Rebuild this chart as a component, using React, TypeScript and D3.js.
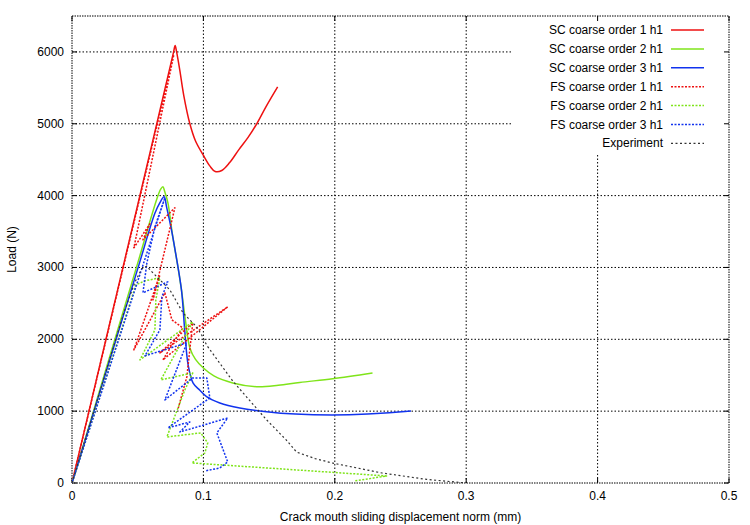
import React from "react";
import * as d3 from "d3";

const xTicks = [0, 0.1, 0.2, 0.3, 0.4, 0.5];
const yTicks = [0, 1000, 2000, 3000, 4000, 5000, 6000];
const xTickLabels = ["0", "0.1", "0.2", "0.3", "0.4", "0.5"];
const yTickLabels = ["0", "1000", "2000", "3000", "4000", "5000", "6000"];

const scOrder1: [number, number][] = [
  [0, 0], [0.025, 1935], [0.05, 3870], [0.0772, 5990], [0.0785, 6090], [0.0795, 6010],
  [0.082, 5750], [0.085, 5400], [0.0897, 5000], [0.094, 4760], [0.1, 4560], [0.105, 4410],
  [0.109, 4335], [0.114, 4350], [0.12, 4460], [0.127, 4640], [0.134, 4810], [0.1406, 5000],
  [0.148, 5250], [0.1565, 5515],
];
const scOrder2: [number, number][] = [
  [0, 0], [0.025, 1530], [0.05, 3060], [0.0645, 3950], [0.0675, 4090], [0.0692, 4123],
  [0.0705, 4060], [0.073, 3900], [0.0765, 3450], [0.0806, 3009], [0.0833, 2688],
  [0.0866, 2229], [0.0897, 1880], [0.094, 1720], [0.1, 1600], [0.108, 1490], [0.1223, 1393],
  [0.1406, 1340], [0.157, 1360], [0.1733, 1400], [0.1983, 1450], [0.2287, 1530],
];
const scOrder3: [number, number][] = [
  [0, 0], [0.025, 1490], [0.05, 2980], [0.063, 3750], [0.0668, 3900], [0.0701, 3984],
  [0.072, 3840], [0.0757, 3524], [0.0783, 3260], [0.0833, 2688], [0.0859, 2100],
  [0.0884, 1640], [0.0922, 1389], [0.0973, 1290], [0.1024, 1202], [0.1125, 1114],
  [0.1277, 1045], [0.148, 993], [0.17, 960], [0.198, 947], [0.225, 960], [0.258, 1003],
];
const fsOrder1: [number, number][] = [
  [0, 0], [0.0775, 5962], [0.0471, 3274], [0.0593, 3608], [0.054, 3385], [0.0783, 3831],
  [0.0616, 2549], [0.0669, 2897], [0.0471, 1853], [0.0707, 2647], [0.076, 2271],
  [0.0843, 2159], [0.0691, 1713], [0.1185, 2452], [0.0669, 1811], [0.0919, 2229],
  [0.0874, 1477], [0.0805, 1017],
];
const fsOrder2: [number, number][] = [
  [0, 0], [0.0486, 2758], [0.0555, 2814], [0.0669, 2856], [0.0638, 2549], [0.0631, 2131],
  [0.0517, 1713], [0.0919, 2243], [0.0676, 1435], [0.0919, 1532], [0.0859, 1295],
  [0.0722, 641], [0.098, 697], [0.1033, 557], [0.1011, 418], [0.0912, 279],
  [0.2394, 98], [0.215, 28],
];
const fsOrder3: [number, number][] = [
  [0, 0], [0.0707, 3970], [0.0631, 3566], [0.057, 3065], [0.054, 2647], [0.0729, 2800],
  [0.0684, 2591], [0.0669, 2131], [0.0555, 1769], [0.0874, 1950], [0.0707, 1156],
  [0.0919, 1463], [0.1026, 1463], [0.1049, 1184], [0.0729, 766], [0.0897, 850],
  [0.0821, 710], [0.1185, 905], [0.1102, 697], [0.1185, 293], [0.1125, 209], [0.1011, 167],
];
const experiment: [number, number][] = [
  [0, 0], [0.02, 1200], [0.04, 2400], [0.048, 2800], [0.053, 2980], [0.057, 3020],
  [0.0593, 2967], [0.0745, 2688], [0.0846, 2364], [0.0947, 2177], [0.0995, 2034],
  [0.1024, 1920], [0.1223, 1420], [0.148, 880], [0.163, 600], [0.171, 430], [0.185, 340],
  [0.198, 279], [0.236, 139], [0.27, 50], [0.3, 0],
];

const seriesNames = [
  "SC coarse order 1 h1", "SC coarse order 2 h1", "SC coarse order 3 h1",
  "FS coarse order 1 h1", "FS coarse order 2 h1", "FS coarse order 3 h1", "Experiment",
];
const seriesData = [scOrder1, scOrder2, scOrder3, fsOrder1, fsOrder2, fsOrder3, experiment];
const seriesColors = ["#ee1111", "#7fe41a", "#1133ee", "#ee1111", "#7fe41a", "#1133ee", "#333333"];
const seriesDash = [null, null, null, "2,1.5", "2,1.5", "2,1.5", "2,2.5"];
const seriesSmooth = [true, true, true, false, false, false, false];

const W = 750, H = 525;
const L = 72, R = 729, T = 16, B = 483;
const FONT = "'Liberation Sans', Arial, Helvetica, sans-serif";

export default function App() {
  const x = d3.scaleLinear().domain([0, 0.5]).range([L, R]);
  const y = d3.scaleLinear().domain([0, 6500]).range([B, T]);
  const lineStraight = d3.line<[number, number]>().x((d) => x(d[0])).y((d) => y(d[1]));
  const lineSmooth = d3.line<[number, number]>().x((d) => x(d[0])).y((d) => y(d[1]))
    .curve(d3.curveCatmullRom.alpha(0.5));
  const legX = 512, legY = 155;
  const gridDash = "1.5,2";

  return (
    <svg width={W} height={H} style={{ position: "absolute", left: 0, top: 0, background: "#fff" }}
      fontFamily={FONT}>
      <rect x={0} y={0} width={W} height={H} fill="#fff" />
      {xTicks.slice(1, -1).map((t) => {
        const px = x(t);
        const y1 = px > legX ? legY : T;
        return <line key={"gx" + t} x1={px} x2={px} y1={y1} y2={B} stroke="#000" strokeWidth={1} strokeDasharray={gridDash} />;
      })}
      {yTicks.slice(1).map((t) => {
        const py = y(t);
        const x2 = py < legY ? legX : R;
        return <line key={"gy" + t} x1={L} x2={x2} y1={py} y2={py} stroke="#000" strokeWidth={1} strokeDasharray={gridDash} />;
      })}
      <rect x={L} y={T} width={R - L} height={B - T} fill="none" stroke="#000" strokeWidth={1} strokeDasharray="1.5,1" />
      {xTicks.map((t) => (
        <g key={"tx" + t}>
          <line x1={x(t)} x2={x(t)} y1={B} y2={B - 5} stroke="#000" />
          <line x1={x(t)} x2={x(t)} y1={T} y2={T + 5} stroke="#000" />
        </g>
      ))}
      {yTicks.map((t) => (
        <g key={"ty" + t}>
          <line x1={L} x2={L + 5} y1={y(t)} y2={y(t)} stroke="#000" />
          <line x1={R} x2={R - 5} y1={y(t)} y2={y(t)} stroke="#000" />
        </g>
      ))}
      {xTicks.map((t, i) => (
        <text key={"lx" + t} x={x(t)} y={500} fontSize={12} textAnchor="middle">{xTickLabels[i]}</text>
      ))}
      {yTicks.map((t, i) => (
        <text key={"ly" + t} x={64} y={y(t) + 4} fontSize={12} textAnchor="end">{yTickLabels[i]}</text>
      ))}
      <text x={(L + R) / 2} y={521} fontSize={12} textAnchor="middle">Crack mouth sliding displacement norm (mm)</text>
      <text transform={`translate(16,${(T + B) / 2}) rotate(-90)`} fontSize={12} textAnchor="middle">Load (N)</text>
      <defs>
        <clipPath id="plotclip"><rect x={L} y={T} width={R - L} height={B - T} /></clipPath>
      </defs>
      <g clipPath="url(#plotclip)">
        {seriesData.map((s, i) => (
          <path key={"s" + i} d={(seriesSmooth[i] ? lineSmooth(s) : lineStraight(s)) || ""} fill="none"
            stroke={seriesColors[i]} strokeWidth={i === 6 ? 1.2 : 1.5}
            strokeDasharray={seriesDash[i] || undefined} strokeLinejoin="round" />
        ))}
      </g>
      {seriesNames.map((n, i) => {
        const ly = 30 + i * 18.9;
        return (
          <g key={"leg" + i}>
            <text x={663} y={ly + 4} fontSize={12} textAnchor="end">{n}</text>
            <line x1={671} x2={704} y1={ly} y2={ly} stroke={seriesColors[i]}
              strokeWidth={i === 6 ? 1.2 : 1.5} strokeDasharray={seriesDash[i] || undefined} />
          </g>
        );
      })}
    </svg>
  );
}
